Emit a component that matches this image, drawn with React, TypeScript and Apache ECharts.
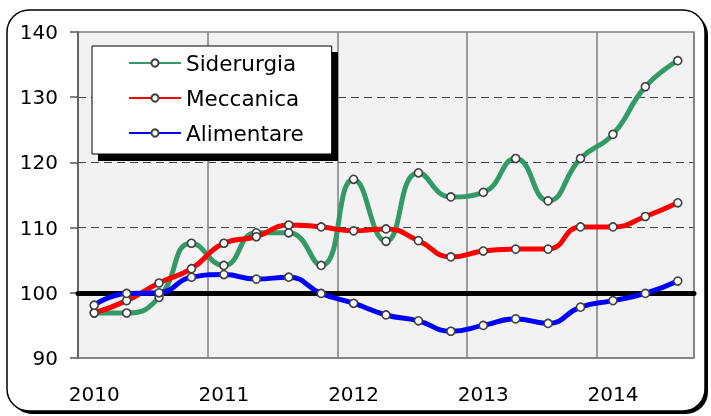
import React, { useEffect, useRef } from "react";
import * as echarts from "echarts";

const categories = [
  "2010 T1", "2010 T2", "2010 T3", "2010 T4",
  "2011 T1", "2011 T2", "2011 T3", "2011 T4",
  "2012 T1", "2012 T2", "2012 T3", "2012 T4",
  "2013 T1", "2013 T2", "2013 T3", "2013 T4",
  "2014 T1", "2014 T2", "2014 T3",
];
const siderurgia = [96.9, 96.9, 99.3, 107.6, 104.2, 109.2, 109.2, 104.2, 117.4, 107.9, 118.4, 114.7, 115.4, 120.6, 114.1, 120.6, 124.3, 131.6, 135.6];
const meccanica = [96.9, 98.8, 101.5, 103.7, 107.6, 108.6, 110.4, 110.1, 109.5, 109.8, 108.0, 105.5, 106.4, 106.7, 106.7, 110.1, 110.1, 111.7, 113.8];
const alimentare = [98.1, 99.9, 100.0, 102.4, 102.8, 102.1, 102.4, 99.9, 98.4, 96.6, 95.7, 94.1, 95.0, 96.0, 95.3, 97.8, 98.8, 99.9, 101.8];
const yTicks = { min: 90, max: 140, interval: 10 };
const baseline = 100;

const FONT = "DejaVu Sans";

export default function App() {
  const ref = useRef<HTMLDivElement>(null);
  useEffect(() => {
    if (!ref.current) return;
    const chart = echarts.init(ref.current, null, { renderer: "svg" });
    const mk = (name: string, data: number[], color: string, extra: any = {}) => ({
      name,
      type: "line",
      data,
      smooth: 0.5,
      symbol: "circle",
      symbolSize: 8,
      showSymbol: true,
      lineStyle: { color, width: 5 },
      itemStyle: { color: "#ffffff", borderColor: "#404040", borderWidth: 1.6 },
      z: 5,
      ...extra,
    });
    chart.setOption({
      animation: false,
      textStyle: { fontFamily: FONT },
      graphic: [
        { type: "rect", z: -20, shape: { x: 10, y: 13, width: 698, height: 401, r: 22 }, style: { fill: "#000" }, silent: true },
        { type: "rect", z: -19, shape: { x: 7, y: 10, width: 698, height: 401, r: 22 }, style: { fill: "#fff", stroke: "#000", lineWidth: 1.5 }, silent: true },
        { type: "rect", z: 3, shape: { x: 98, y: 52, width: 240, height: 109 }, style: { fill: "#000" }, silent: true },
      ],
      grid: {
        left: 78,
        top: 32,
        right: 17,
        bottom: 58,
        show: true,
        backgroundColor: "#f2f2f2",
        borderColor: "#808080",
        borderWidth: 1.5,
      },
      legend: {
        left: 92,
        top: 46,
        orient: "vertical",
        backgroundColor: "#fff",
        borderColor: "#000",
        borderWidth: 1,
        padding: [6, 28, 10, 36],
        itemWidth: 52,
        itemHeight: 9,
        itemGap: 13,
        textStyle: { fontFamily: FONT, fontSize: 21.5, color: "#000" },
        data: ["Siderurgia", "Meccanica", "Alimentare"],
        z: 10,
      },
      xAxis: {
        type: "category",
        data: categories,
        boundaryGap: true,
        axisLine: { show: true, lineStyle: { color: "#808080", width: 1.5 } },
        axisTick: { show: false, interval: 3 },
        axisLabel: {
          interval: 3,
          margin: 26,
          fontFamily: FONT,
          fontSize: 20,
          color: "#000",
          formatter: (v: string) => v.slice(0, 4),
        },
        splitLine: { show: true, interval: 3, lineStyle: { color: "#7f7f7f", width: 1.5 } },
      },
      yAxis: {
        type: "value",
        min: yTicks.min,
        max: yTicks.max,
        interval: yTicks.interval,
        axisLine: { show: true, lineStyle: { color: "#595959", width: 1.5 } },
        axisTick: { show: true, inside: false, length: 8, lineStyle: { color: "#595959", width: 1.5 } },
        axisLabel: { margin: 20, fontFamily: FONT, fontSize: 20, color: "#000" },
        splitLine: {
          show: true,
          lineStyle: {
            color: ["rgba(0,0,0,0)", "rgba(0,0,0,0)", "#404040", "#404040", "#404040", "rgba(0,0,0,0)"],
            type: [8, 5],
            width: 1.2,
          },
        },
      },
      series: [
        mk("Siderurgia", siderurgia, "#339966", {
          markLine: {
            silent: true,
            symbol: "none",
            label: { show: false },
            lineStyle: { color: "#000", width: 5, type: "solid", cap: "round" },
            data: [{ yAxis: baseline }],
            z: 3,
          },
        }),
        mk("Meccanica", meccanica, "#ff0000"),
        mk("Alimentare", alimentare, "#0000ff"),
      ],
    });
    return () => chart.dispose();
  }, []);
  return <div ref={ref} style={{ position: "fixed", left: 0, top: 0, width: 711, height: 416 }} />;
}
